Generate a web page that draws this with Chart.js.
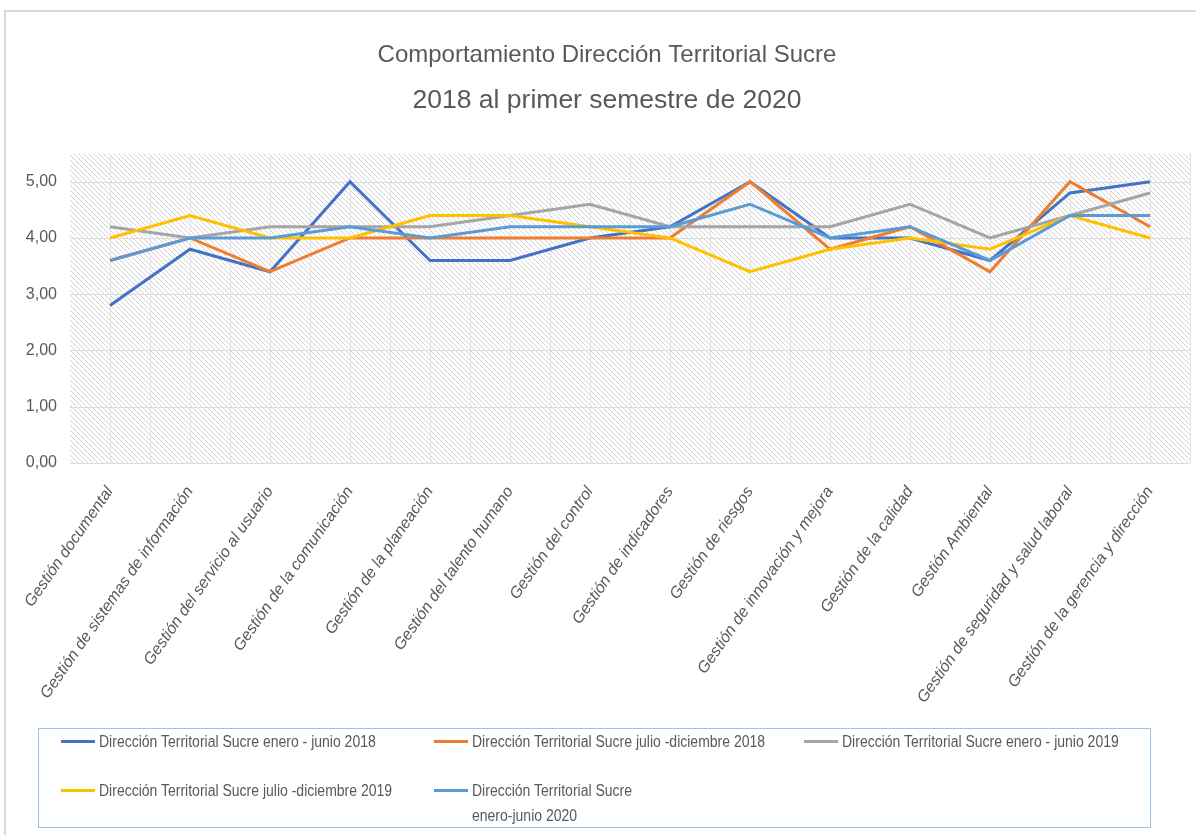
<!DOCTYPE html>
<html lang="es">
<head>
<meta charset="utf-8">
<title>Comportamiento Dirección Territorial Sucre</title>
<script src="https://cdn.jsdelivr.net/npm/chart.js@4.4.1/dist/chart.umd.min.js"></script>
<style>
  html, body { margin: 0; padding: 0; background: #ffffff; }
  #wrap { position: relative; width: 1196px; height: 835px; overflow: hidden; background: #ffffff; }
  #frame { position: absolute; left: 4px; top: 10px; width: 1300px; height: 900px;
           border-top: 2px solid #d9d9d9; border-left: 2px solid #d9d9d9; box-sizing: border-box; }
  #chart { position: absolute; left: 0; top: 0; }
  #legend { position: absolute; left: 38px; top: 728px; width: 1113px; height: 100px;
            border: 1.5px solid #9dc3e6; box-sizing: border-box; }
  .item { position: absolute; display: flex; align-items: flex-start;
          font-family: "Liberation Sans", Arial, sans-serif; font-size: 16px;
          color: #595959; line-height: 25px; white-space: pre; }
  .swatch { width: 34px; height: 3px; margin-top: 11px; margin-right: 4px; flex: none; }
  .txt { display: inline-block; transform: scaleX(0.875); transform-origin: 0 0; }
</style>
</head>
<body>
<div id="wrap">
  <div id="frame"></div>
  <canvas id="chart" width="1196" height="835"></canvas>
  <div id="legend"></div>
</div>
<script>
// Procesos evaluados
const categories = [
  'Gestión documental',
  'Gestión de sistemas de información',
  'Gestión del servicio al usuario',
  'Gestión de la comunicación',
  'Gestión de la planeación',
  'Gestión del talento humano',
  'Gestión del control',
  'Gestión de indicadores',
  'Gestión de riesgos',
  'Gestión de innovación y mejora',
  'Gestión de la calidad',
  'Gestión Ambiental',
  'Gestión de seguridad y salud laboral',
  'Gestión de la gerencia y dirección'
];

// Calificación por periodo
const enJun2018 = [2.8, 3.8, 3.4, 5.0, 3.6, 3.6, 4.0, 4.2, 5.0, 4.0, 4.0, 3.6, 4.8, 5.0];
const julDic2018 = [3.6, 4.0, 3.4, 4.0, 4.0, 4.0, 4.0, 4.0, 5.0, 3.8, 4.2, 3.4, 5.0, 4.2];
const enJun2019 = [4.2, 4.0, 4.2, 4.2, 4.2, 4.4, 4.6, 4.2, 4.2, 4.2, 4.6, 4.0, 4.4, 4.8];
const julDic2019 = [4.0, 4.4, 4.0, 4.0, 4.4, 4.4, 4.2, 4.0, 3.4, 3.8, 4.0, 3.8, 4.4, 4.0];
const enJun2020 = [3.6, 4.0, 4.0, 4.2, 4.0, 4.2, 4.2, 4.2, 4.6, 4.0, 4.2, 3.6, 4.4, 4.4];

const seriesNames = [
  'Dirección Territorial Sucre enero - junio 2018',
  'Dirección Territorial Sucre julio -diciembre 2018',
  'Dirección Territorial Sucre enero - junio 2019',
  'Dirección Territorial Sucre julio -diciembre 2019',
  'Dirección Territorial Sucre\nenero-junio 2020'
];
const seriesColors = ['#4472c4', '#ed7d31', '#a5a5a5', '#ffc000', '#5b9bd5'];
const seriesValues = [enJun2018, julDic2018, enJun2019, julDic2019, enJun2020];

const titleLines = ['Comportamiento Dirección Territorial Sucre', '2018 al primer semestre de 2020'];
const yMax = 5.5;
const yStep = 1;

const FONT = '"Liberation Sans", Arial, sans-serif';
const TEXT = '#595959';

// Diagonal hatch used as the plot-area fill
function hatchPattern(ctx) {
  const tile = document.createElement('canvas');
  tile.width = 5; tile.height = 5;
  const t = tile.getContext('2d');
  t.fillStyle = '#ffffff';
  t.fillRect(0, 0, 5, 5);
  t.strokeStyle = '#d2d2d2';
  t.lineWidth = 1;
  t.beginPath();
  t.moveTo(-1, -1); t.lineTo(6, 6);
  t.moveTo(-1, 4); t.lineTo(1, 6);
  t.moveTo(4, -1); t.lineTo(6, 1);
  t.stroke();
  return ctx.createPattern(tile, 'repeat');
}

const plotBackground = {
  id: 'plotBackground',
  beforeDatasetsDraw(chart) {
    const { ctx, chartArea: a, scales } = chart;
    ctx.save();
    ctx.fillStyle = hatchPattern(ctx);
    ctx.fillRect(a.left, a.top, a.right - a.left, a.bottom - a.top);
    // vertical guides at each category and between categories
    ctx.strokeStyle = '#e3e3e3';
    ctx.lineWidth = 1;
    const x = scales.x;
    const n = categories.length;
    const half = (x.getPixelForValue(1) - x.getPixelForValue(0)) / 2;
    ctx.beginPath();
    for (let i = 0; i < n; i++) {
      const px = Math.round(x.getPixelForValue(i)) + 0.5;
      ctx.moveTo(px, a.top); ctx.lineTo(px, a.bottom);
      const pb = Math.round(x.getPixelForValue(i) + half) + 0.5;
      ctx.moveTo(pb, a.top); ctx.lineTo(pb, a.bottom);
    }
    ctx.stroke();
    // horizontal value gridlines
    const y = scales.y;
    ctx.strokeStyle = '#dcdcdc';
    ctx.beginPath();
    y.ticks.forEach(t => {
      const py = Math.round(y.getPixelForValue(t.value)) + 0.5;
      ctx.moveTo(a.left, py); ctx.lineTo(a.right, py);
    });
    ctx.stroke();
    ctx.restore();
  }
};

const datasets = seriesValues.map((vals, i) => ({
  label: seriesNames[i],
  data: vals,
  borderColor: seriesColors[i],
  backgroundColor: seriesColors[i],
  borderWidth: 3,
  pointRadius: 0,
  tension: 0,
  fill: false,
  order: seriesValues.length - i
}));

const chart = new Chart(document.getElementById('chart'), {
  type: 'line',
  data: { labels: categories, datasets },
  plugins: [plotBackground],
  options: {
    responsive: false,
    animation: false,
    layout: { padding: { left: 24, right: 6, top: 0, bottom: 0 } },
    plugins: {
      legend: { display: false },
      tooltip: { enabled: false },
      title: {
        display: true,
        text: titleLines[0],
        color: TEXT,
        font: { family: FONT, size: 24, weight: 'normal' },
        padding: { top: 41, bottom: 0 }
      },
      subtitle: {
        display: true,
        text: titleLines[1],
        color: TEXT,
        font: { family: FONT, size: 26.5, weight: 'normal' },
        padding: { top: 15, bottom: 37 }
      }
    },
    scales: {
      x: {
        type: 'category',
        offset: true,
        grid: { display: false, drawTicks: false },
        border: { display: false },
        ticks: {
          color: TEXT,
          font: { family: FONT, size: 16, style: 'italic' },
          maxRotation: 55,
          minRotation: 55,
          autoSkip: false,
          padding: 20
        },
        afterFit(scale) { scale.height = 372; }
      },
      y: {
        min: 0,
        max: yMax,
        grid: { display: false, drawTicks: false },
        border: { display: false },
        ticks: {
          stepSize: yStep,
          color: TEXT,
          font: { family: FONT, size: 16 },
          padding: 13,
          callback: v => v.toFixed(2).replace('.', ',')
        },
        afterBuildTicks(scale) {
          scale.ticks = scale.ticks.filter(t => t.value <= 5);
        },
        afterFit(scale) { scale.width = 46; }
      }
    }
  }
});

// Legend laid out in three columns below the plot
const legendSlots = [
  { left: 22, top: 0 },
  { left: 395, top: 0 },
  { left: 765, top: 0 },
  { left: 22, top: 49 },
  { left: 395, top: 49 }
];
const legendEl = document.getElementById('legend');
chart.data.datasets.forEach((ds, i) => {
  const item = document.createElement('div');
  item.className = 'item';
  item.style.left = legendSlots[i].left + 'px';
  item.style.top = legendSlots[i].top + 'px';
  const sw = document.createElement('span');
  sw.className = 'swatch';
  sw.style.background = ds.borderColor;
  const tx = document.createElement('span');
  tx.className = 'txt';
  tx.textContent = ds.label;
  item.appendChild(sw);
  item.appendChild(tx);
  legendEl.appendChild(item);
});
</script>
</body>
</html>
